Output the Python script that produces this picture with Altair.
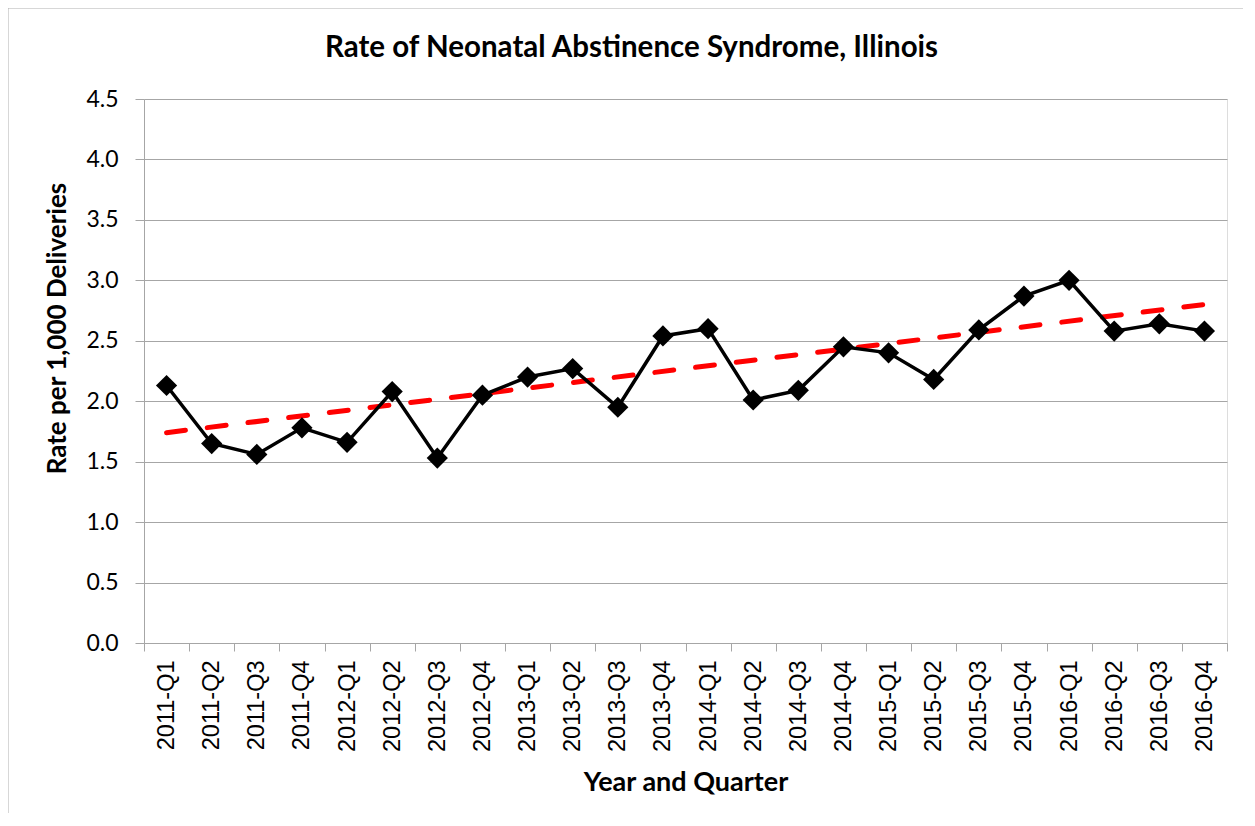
import altair as alt
import pandas as pd

quarters = ["2011-Q1", "2011-Q2", "2011-Q3", "2011-Q4",
            "2012-Q1", "2012-Q2", "2012-Q3", "2012-Q4",
            "2013-Q1", "2013-Q2", "2013-Q3", "2013-Q4",
            "2014-Q1", "2014-Q2", "2014-Q3", "2014-Q4",
            "2015-Q1", "2015-Q2", "2015-Q3", "2015-Q4",
            "2016-Q1", "2016-Q2", "2016-Q3", "2016-Q4"]
rates = [2.13, 1.65, 1.56, 1.78, 1.66, 2.08, 1.53, 2.05,
         2.20, 2.27, 1.95, 2.54, 2.60, 2.01, 2.09, 2.45,
         2.40, 2.18, 2.59, 2.87, 3.00, 2.58, 2.64, 2.58]
# linear trend line (start and end values)
trend_quarters = ["2011-Q1", "2016-Q4"]
trend_values = [1.74, 2.80]
y_ticks = [0, 0.5, 1.0, 1.5, 2.0, 2.5, 3.0, 3.5, 4.0, 4.5]
title_text = ["Rate of Neonatal Abstinence Syndrome, Illinois"]

df = pd.DataFrame({"quarter": quarters, "rate": rates})
tdf = pd.DataFrame({"quarter": trend_quarters, "rate": trend_values})

GRID = "#a6a6a6"
W, H = 1083, 544

x_enc = alt.X("quarter:N", sort=quarters,
              scale=alt.Scale(domain=quarters, paddingInner=0, paddingOuter=0),
              axis=alt.Axis(title="Year and Quarter", labelAngle=-90,
                            labelFont="Liberation Sans", labelFontSize=23.5,
                            labelColor="black", labelPadding=9,
                            tickBand="extent", tickSize=8, tickColor=GRID,
                            domainColor=GRID, grid=False,
                            titleFont="Lato", titleFontSize=27,
                            titleFontWeight="bold", titleColor="black",
                            titleY=139, titleBaseline="middle"))
y_enc = alt.Y("rate:Q",
              scale=alt.Scale(domain=[0, 4.5], nice=False),
              axis=alt.Axis(title="Rate per 1,000 Deliveries", values=y_ticks,
                            format=".1f", labelFont="Lato", labelFontSize=23,
                            labelColor="black", labelPadding=17,
                            tickSize=9, tickColor=GRID, domainColor=GRID,
                            gridColor=GRID, gridWidth=1,
                            titleFont="Lato", titleFontSize=26,
                            titleFontWeight="bold", titleColor="black",
                            titleAngle=-90, titleX=-87, titleY=229,
                            titleAlign="center", titleBaseline="middle"))

line = alt.Chart(df).mark_line(color="black", strokeWidth=3.5).encode(x=x_enc, y=y_enc)
pts = alt.Chart(df).mark_point(shape="diamond", filled=True, color="black",
                               size=450, opacity=1).encode(x=x_enc, y=y_enc)
trend = alt.Chart(tdf).mark_line(color="#ff0000", strokeWidth=5,
                                 strokeDash=[19, 22], strokeCap="round").encode(
    x=alt.X("quarter:N", sort=quarters), y="rate:Q")

one = pd.DataFrame({"a": [0]})
border = alt.Chart(one).mark_rule(color="#b0b0b0", strokeWidth=1).encode(
    x=alt.value(-136), x2=alt.value(-136), y=alt.value(-91), y2=alt.value(H + 175))
border_top = alt.Chart(one).mark_rule(color="#b0b0b0", strokeWidth=1).encode(
    x=alt.value(-136), x2=alt.value(W + 16), y=alt.value(-91), y2=alt.value(-91))
title = alt.Chart(pd.DataFrame({"t": title_text})).mark_text(
    font="Lato", fontSize=29.5, fontWeight="bold", color="black",
    align="center", baseline="middle").encode(
    text="t:N", x=alt.value(W / 2 - 54), y=alt.value(-51))

chart = alt.layer(trend, line, pts, border, border_top, title).properties(
    width=W, height=H,
    autosize=alt.AutoSizeParams(type="none"),
    padding={"left": 136, "top": 91, "right": 16, "bottom": 170},
).configure_view(stroke=None).configure(background="white")

chart.save("out.html", embed_options={"renderer": "svg", "actions": False})
